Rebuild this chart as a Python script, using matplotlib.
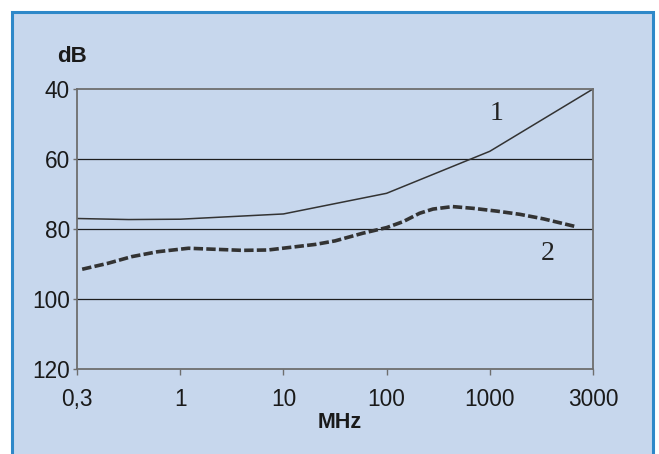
import numpy as np
import matplotlib.pyplot as plt
from matplotlib.patches import Rectangle

# category axis (equally spaced in the original)
freq_labels = ["0,3", "1", "10", "100", "1000", "3000"]
y_ticks = [40, 60, 80, 100, 120]

# curve 1 (solid), x in category positions
x1 = [0, 0.5, 1, 2, 3, 4, 5]
db1 = [77, 77.3, 77.2, 75.7, 69.8, 57.8, 40]

# curve 2 (dashed)
x2 = [0.05, 0.30, 0.53, 0.78, 1.08, 1.34, 1.60, 1.85, 2.08, 2.31, 2.50,
      2.77, 3.00, 3.16, 3.32, 3.45, 3.64, 3.84, 4.07, 4.29, 4.52, 4.83]
db2 = [91.5, 89.8, 87.9, 86.5, 85.5, 85.8, 86.1, 86.0, 85.2, 84.4, 83.4,
       81.2, 79.6, 77.9, 75.5, 74.3, 73.6, 74.1, 74.9, 75.8, 77.1, 79.3]

bg = "#c7d7ed"
edge = "#2e88c9"
ink = "#333333"

fig = plt.figure(figsize=(6.59, 4.54), dpi=100)
fig.patch.set_facecolor("white")
# blue panel behind everything
fig.patches.append(Rectangle((12/659, -0.01), (653-12)/659, 1 - 12/454 + 0.01,
                             transform=fig.transFigure, facecolor=bg,
                             edgecolor=edge, linewidth=2.2, zorder=-5))

ax = fig.add_axes([77/659, 1 - 369/454, (593-77)/659, (369-89)/454])
ax.set_zorder(2)
ax.set_facecolor(bg)

idx = np.arange(len(freq_labels))
ax.set_xlim(idx[0], idx[-1])
ax.set_ylim(120, 40)

ax.plot(x1, db1, color=ink, lw=1.1, solid_joinstyle="miter")
ax.plot(x2, db2, color=ink, lw=2.6, dashes=(2.6, 0.9), dash_capstyle="butt")

for v in [60, 80, 100]:
    ax.axhline(v, color="#1e1e1e", lw=0.9, zorder=1)

for s in ax.spines.values():
    s.set_color("#6e6e6e")
    s.set_linewidth(1.3)

ax.set_xticks(idx)
ax.set_xticklabels(freq_labels)
ax.set_yticks(y_ticks)
ax.tick_params(axis="x", length=4, width=1, color="#6e6e6e", pad=10,
               labelsize=16.3, labelcolor="#1a1a1a")
ax.tick_params(axis="y", length=3, width=1, color="#6e6e6e", pad=2,
               labelsize=16.3, labelcolor="#1a1a1a")
for lab in ax.get_xticklabels() + ax.get_yticklabels():
    lab.set_family("Liberation Sans")

fig.text(72/659, 1 - 57/454, "dB", fontsize=16, fontweight="bold",
         family="Liberation Sans", ha="center", va="center", color="#1a1a1a")
fig.text(340/659, 1 - 422/454, "MHz", fontsize=15.5, fontweight="bold",
         family="Liberation Sans", ha="center", va="center", color="#1a1a1a")

ax.text(4.07, 46.9, "1", fontsize=20, family="Liberation Serif",
        ha="center", va="center", color="#222222")
ax.text(4.56, 86.9, "2", fontsize=20, family="Liberation Serif",
        ha="center", va="center", color="#222222")

fig.savefig("out.png", dpi=100, facecolor=fig.get_facecolor())
